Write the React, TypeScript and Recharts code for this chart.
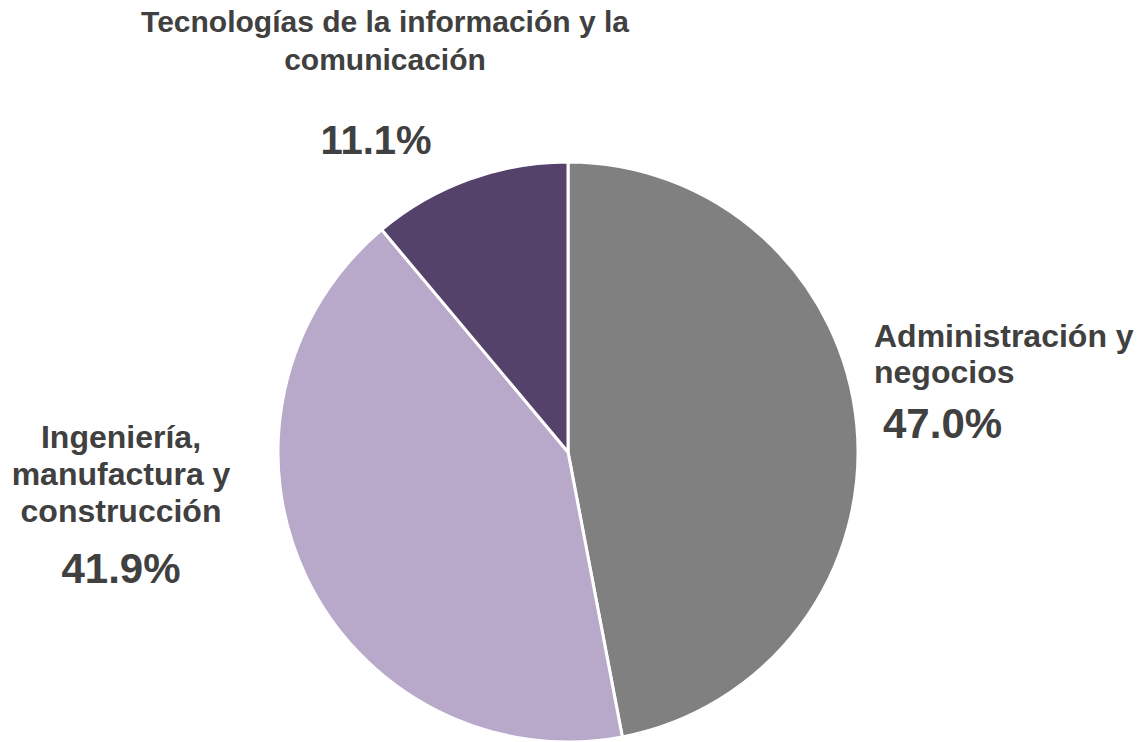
import React from "react";
import { PieChart, Pie, Cell } from "recharts";

const categories = [
  "Administración y negocios",
  "Ingeniería, manufactura y construcción",
  "Tecnologías de la información y la comunicación",
];
const values = [47.0, 41.9, 11.1];
const labelLines = [
  ["Administración y", "negocios"],
  ["Ingeniería,", "manufactura y", "construcción"],
  ["Tecnologías de la información y la", "comunicación"],
];
const colors = ["#808080", "#B8A9CA", "#54426B"];

const data = categories.map((name, i) => ({ name, value: values[i] }));

const FONT = "'Liberation Sans', Arial, sans-serif";
const TEXT_COLOR = "#404040";

// label layout per slice, offsets relative to the pie centre
const layouts = [
  { anchor: "start", x: 306, ys: [-105, -69], px: 315, py: -14, fs: 32, pfs: 42 },
  { anchor: "middle", x: -447, ys: [-4, 33, 70], px: -447, py: 131, fs: 32, pfs: 42 },
  { anchor: "middle", x: -183, ys: [-420, -382], px: -192, py: -298, fs: 30, pfs: 40 },
];

const renderLabel = (props: any) => {
  const { cx, cy, index } = props;
  const l = layouts[index];
  const lines = labelLines[index];
  return (
    <g key={`lbl-${index}`}>
      {lines.map((t, j) => (
        <text
          key={j}
          x={cx + l.x}
          y={cy + l.ys[j]}
          textAnchor={l.anchor as any}
          fill={TEXT_COLOR}
          fontFamily={FONT}
          fontWeight="bold"
          fontSize={l.fs}
        >
          {t}
        </text>
      ))}
      <text
        x={cx + l.px}
        y={cy + l.py}
        textAnchor={l.anchor as any}
        fill={TEXT_COLOR}
        fontFamily={FONT}
        fontWeight="bold"
        fontSize={l.pfs}
      >
        {values[index].toFixed(1) + "%"}
      </text>
    </g>
  );
};

export default function App() {
  return (
    <div style={{ position: "absolute", left: 0, top: 0, width: 1138, height: 742, background: "#fff" }}>
      <PieChart width={1138} height={742} margin={{ top: 0, right: 0, bottom: 0, left: 0 }}>
        <Pie
          data={data}
          dataKey="value"
          nameKey="name"
          cx={568}
          cy={452}
          outerRadius={290}
          startAngle={90}
          endAngle={-270}
          stroke="#ffffff"
          strokeWidth={3}
          label={renderLabel}
          labelLine={false}
          isAnimationActive={false}
        >
          {data.map((d, i) => (
            <Cell key={d.name} fill={colors[i]} />
          ))}
        </Pie>
      </PieChart>
    </div>
  );
}
